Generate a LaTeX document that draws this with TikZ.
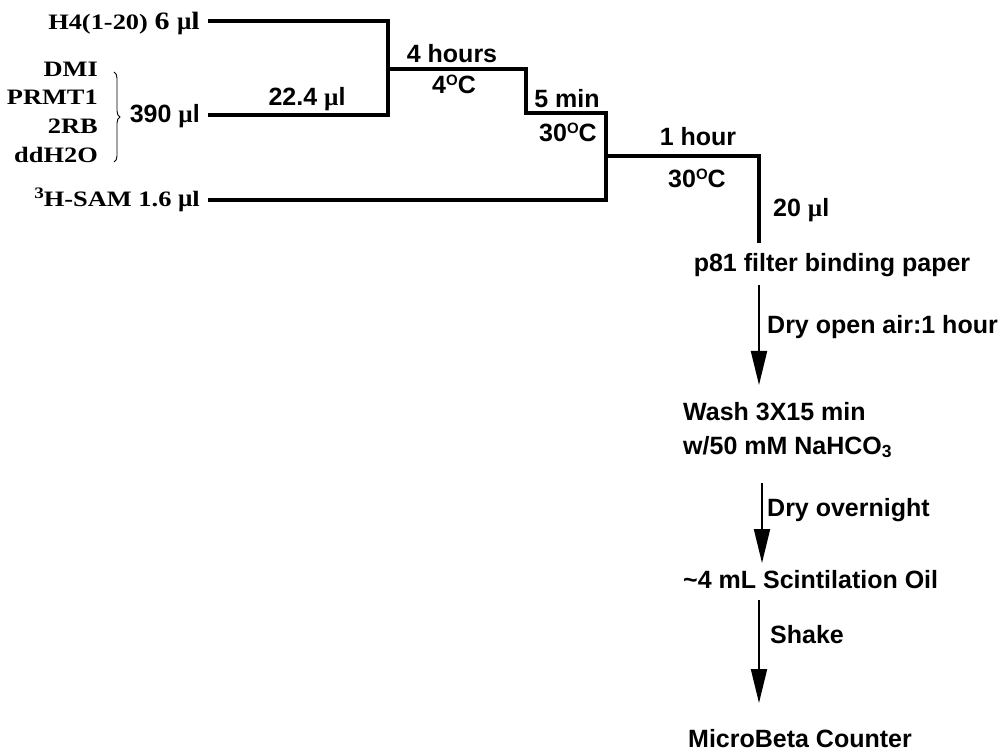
\documentclass[tikz,border=0pt]{standalone}
\usepackage{fontspec}
\setmainfont{Liberation Sans}
\newfontfamily\seriffam{Liberation Serif}[FakeStretch=1.2]
\newfontfamily\muFont{Liberation Serif}
\usetikzlibrary{arrows.meta,decorations.pathreplacing}
\newcommand\SB{\fontsize{25}{30}\selectfont\bfseries}
\newcommand\TB{\fontsize{22}{26}\selectfont\seriffam\bfseries}
\newcommand\mic{{\muFont\bfseries µ}}
\newcommand\degC{\raisebox{8pt}{\fontsize{15}{15}\selectfont O}C}
\newcommand\supthree{\raisebox{8pt}{\fontsize{16}{16}\selectfont 3}}
\begin{document}
\begin{tikzpicture}[x=1pt,y=-1pt,
  lab/.style={inner sep=0pt,font=\SB},
  slab/.style={inner sep=0pt,font=\TB},
  thickline/.style={line width=4.6pt},
  arr/.style={line width=2pt,-{Triangle[length=34pt,width=16pt]}},
  bracestyle/.style={line width=0.9pt,decorate,decoration={brace,amplitude=6pt}}]
\useasboundingbox[fill=white] (0,0) rectangle (1005,751);
% junction lines
\coordinate (a1) at (208,21);
\coordinate (a2) at (388,21);
\coordinate (b1) at (208,115);
\coordinate (b2) at (388,115);
\coordinate (c1) at (388,69);
\coordinate (c2) at (526,69);
\coordinate (c3) at (526,113);
\coordinate (c4) at (606,113);
\coordinate (d1) at (208,200);
\coordinate (d2) at (606,200);
\coordinate (e1) at (606,156);
\coordinate (e2) at (759,156);
\coordinate (e3) at (759,243);
\draw[thickline] (a1) -- (a2) -- (b2) -- (b1);
\draw[thickline] (c1) -- (c2) -- (c3) -- (c4) -- (d2) -- (d1);
\draw[thickline] (e1) -- (e2) -- (e3);
% left labels
\node[anchor=base east,inner sep=0pt] (h4) at (200,30) {\TB H4(1-20) \SB 6 \mic l};
\node[slab,anchor=base east] (dmi) at (98,77) {DMI};
\node[slab,anchor=base east] (prmt) at (98,105) {PRMT1};
\node[slab,anchor=base east] (rb) at (98,134) {2RB};
\node[slab,anchor=base east] (dd) at (98,163) {ddH2O};
\coordinate (br1) at (114,72);
\coordinate (br2) at (114,162);
\draw[bracestyle] (br1) -- (br2);
\node[lab,anchor=base east] (v390) at (200,123) {390 \mic l};
\node[lab,anchor=base] (v224) at (307,106) {22.4 \mic l};
\node[anchor=base east,inner sep=0pt] (sam) at (200,207) {\TB \supthree H-SAM 1.6 {\fontsize{25}{30}\selectfont\mic}l};
% step labels
\node[lab,anchor=base] (t1) at (452,63) {4 hours};
\node[lab,anchor=base] (c1l) at (454,94) {4\degC};
\node[lab,anchor=base] (t2) at (567,108) {5 min};
\node[lab,anchor=base] (c2l) at (568,142) {30\degC};
\node[lab,anchor=base] (t3) at (698,146) {1 hour};
\node[lab,anchor=base] (c3l) at (697,188) {30\degC};
\node[lab,anchor=base west] (v20) at (773,217) {20 \mic l};
% right column
\node[lab,anchor=base] (p81) at (832,272) {p81 filter binding paper};
\node[lab,anchor=base west] (wash1) at (683,421) {Wash 3X15 min};
\node[lab,anchor=base west] (wash2) at (683,454) {w/50 mM NaHCO\textsubscript{3}};
\node[lab,anchor=base west] (oil) at (683,588) {\textasciitilde4 mL Scintilation Oil};
\node[lab,anchor=base] (mb) at (800,747) {MicroBeta Counter};
\coordinate (s1) at (759,285);
\coordinate (f1) at (759,385);
\coordinate (s2) at (762,483);
\coordinate (f2) at (762,563);
\coordinate (s3) at (759,600);
\coordinate (f3) at (759,703);
\draw[arr] (s1) -- (f1);
\draw[arr] (s2) -- (f2);
\draw[arr] (s3) -- (f3);
\node[lab,anchor=base west] (l1) at (767,334) {Dry open air:1 hour};
\node[lab,anchor=base west] (l2) at (767,516) {Dry overnight};
\node[lab,anchor=base west] (l3) at (770,643) {Shake};
\end{tikzpicture}
\end{document}
